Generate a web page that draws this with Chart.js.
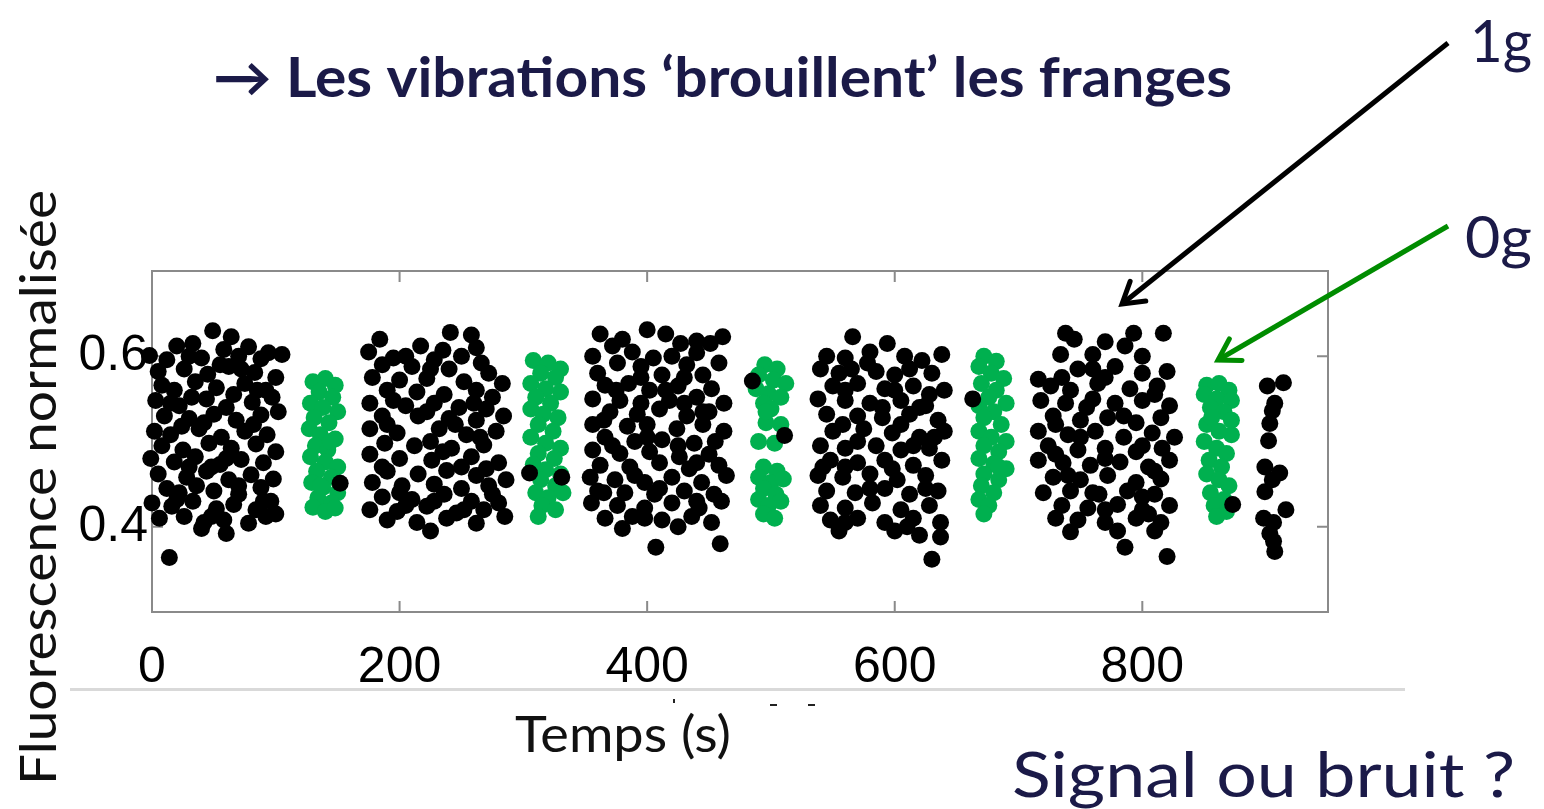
<!DOCTYPE html>
<html>
<head>
<meta charset="utf-8">
<script src="https://cdn.jsdelivr.net/npm/chart.js@4"></script>
<style>
  html, body { margin: 0; padding: 0; background: #fff; }
  canvas { display: block; }
</style>
</head>
<body>
<canvas id="fringes" width="1544" height="809"></canvas>
<script>
// Axis ticks
const xTicks = [0, 200, 400, 600, 800]
const yTicks = [0.4, 0.6]

// Normalised fluorescence, [time (s), value], one array per run
// 1g runs
const run1g_a = [
  [49,0.630],[64,0.623],[20,0.612],[33,0.615],[58,0.608],[78,0.611],[105,0.602],
  [-2,0.601],[12,0.596],[40,0.598],[70,0.600],[88,0.597],[94,0.604],
  [5,0.582],[26,0.585],[45,0.579],[62,0.588],[83,0.581],[100,0.575],
  [8,0.566],[18,0.560],[35,0.570],[52,0.563],[75,0.568],[92,0.560],
  [3,0.548],[22,0.542],[44,0.550],[60,0.540],[81,0.546],[97,0.552],
  [10,0.530],[30,0.527],[50,0.532],[68,0.525],[88,0.531],[102,0.535],
  [2,0.512],[15,0.508],[38,0.515],[56,0.505],[75,0.512],[93,0.508],
  [8,0.495],[25,0.490],[46,0.498],[64,0.492],[84,0.497],[100,0.488],
  [-1,0.480],[18,0.476],[35,0.482],[55,0.473],[72,0.479],[90,0.475],
  [5,0.462],[28,0.458],[44,0.465],[62,0.455],[80,0.461],[98,0.456],
  [12,0.445],[22,0.440],[50,0.442],[70,0.438],[88,0.446],
  [0,0.428],[16,0.424],[33,0.430],[52,0.421],[66,0.426],[84,0.420],[96,0.430],
  [6,0.410],[26,0.412],[42,0.405],[58,0.408],[78,0.404],[92,0.412],
  [60,0.392],[14,0.364],[40,0.398],[100,0.415],[152,0.451],
  [30,0.600],[55,0.590],[72,0.585],[15,0.545],[32,0.552],[66,0.555],[85,0.560],
  [42,0.522],[24,0.518],[82,0.520],[60,0.480],[48,0.470],[30,0.470],[70,0.448],
  [36,0.448],[90,0.430],[48,0.412],[20,0.432]
]
const run1g_b = [
  [241,0.628],[258,0.625],[184,0.620],[217,0.612],[175,0.605],[235,0.607],[195,0.598],
  [228,0.596],[250,0.600],[266,0.592],[186,0.590],[210,0.588],[240,0.585],[272,0.580],
  [178,0.575],[200,0.572],[222,0.574],[252,0.570],[283,0.568],[190,0.560],[214,0.558],
  [236,0.555],[262,0.560],[275,0.552],[176,0.545],[205,0.542],[228,0.545],[248,0.540],
  [270,0.538],[186,0.530],[215,0.530],[240,0.527],[262,0.525],[284,0.530],[176,0.515],
  [198,0.510],[232,0.515],[254,0.508],[278,0.512],[188,0.498],[212,0.495],[242,0.492],
  [268,0.496],[176,0.485],[200,0.480],[226,0.478],[258,0.482],[280,0.475],[190,0.465],
  [215,0.462],[238,0.466],[262,0.460],[178,0.452],[202,0.448],[228,0.450],[250,0.445],
  [272,0.448],[286,0.455],[186,0.435],[210,0.432],[236,0.438],[258,0.430],[280,0.428],
  [176,0.420],[198,0.418],[222,0.424],[246,0.416],[268,0.420],[190,0.408],[214,0.405],
  [238,0.410],[262,0.404],[285,0.412],[225,0.395],[200,0.440],[250,0.470],
  [305,0.463],[331,0.458],
  [205,0.600],[262,0.610],[225,0.585],[195,0.548],[260,0.545],[222,0.535],[190,0.520],
  [245,0.520],[265,0.505],[225,0.500],[235,0.488],[270,0.468],[186,0.470],[228,0.430],
  [252,0.420],[205,0.425],[275,0.438]
]
const run1g_c = [
  [362,0.626],[400,0.631],[415,0.626],[427,0.615],[461,0.623],[451,0.615],[372,0.612],
  [388,0.605],[440,0.604],[356,0.600],[405,0.598],[420,0.600],[376,0.592],[395,0.588],
  [432,0.590],[458,0.592],[360,0.580],[412,0.578],[445,0.578],[366,0.566],[385,0.568],
  [402,0.560],[425,0.565],[452,0.562],[356,0.550],[378,0.548],[418,0.548],[440,0.552],
  [462,0.545],[370,0.535],[392,0.532],[410,0.538],[432,0.530],[450,0.535],[356,0.520],
  [384,0.518],[400,0.520],[424,0.515],[445,0.520],[462,0.512],[366,0.505],[390,0.500],
  [412,0.502],[438,0.498],[455,0.500],[356,0.490],[378,0.486],[402,0.488],[426,0.482],
  [450,0.485],[362,0.472],[386,0.470],[410,0.475],[434,0.468],[458,0.472],[354,0.458],
  [374,0.455],[398,0.452],[420,0.458],[444,0.452],[464,0.460],[360,0.442],[382,0.440],
  [406,0.438],[430,0.442],[454,0.438],[355,0.428],[376,0.425],[398,0.422],[420,0.428],
  [442,0.422],[460,0.430],[366,0.410],[388,0.412],[412,0.408],[436,0.412],[452,0.405],
  [380,0.398],[425,0.400],[407,0.376],[459,0.380],
  [485,0.571],[511,0.507],
  [380,0.620],[440,0.618],[395,0.575],[430,0.575],[375,0.560],[415,0.560],[395,0.545],
  [430,0.545],[365,0.525],[445,0.535],[400,0.505],[425,0.495],[372,0.495],[440,0.475],
  [390,0.460],[410,0.445],[365,0.440],[440,0.430],[398,0.410]
]
const run1g_d = [
  [566,0.623],[594,0.615],[638,0.602],[545,0.600],[560,0.598],[578,0.592],[608,0.600],
  [622,0.595],[540,0.585],[555,0.580],[585,0.582],[600,0.578],[630,0.580],[550,0.565],
  [570,0.568],[592,0.562],[615,0.565],[640,0.560],[538,0.550],[560,0.548],[580,0.545],
  [605,0.548],[625,0.542],[545,0.532],[570,0.530],[590,0.528],[612,0.532],[635,0.525],
  [550,0.512],[575,0.515],[598,0.510],[620,0.505],[640,0.512],[540,0.495],[560,0.492],
  [585,0.495],[605,0.490],[628,0.492],[548,0.478],[570,0.475],[592,0.478],[615,0.472],
  [638,0.478],[538,0.460],[558,0.458],[580,0.462],[602,0.455],[625,0.460],[545,0.442],
  [568,0.440],[592,0.445],[612,0.438],[635,0.442],[540,0.425],[560,0.422],[582,0.428],
  [605,0.420],[628,0.425],[548,0.408],[570,0.410],[592,0.405],[615,0.410],[637,0.405],
  [555,0.395],[600,0.395],[620,0.390],[637,0.388],[630,0.362],[542,0.470],[620,0.540],
  [663,0.550],
  [580,0.605],[612,0.585],[565,0.585],[560,0.560],[600,0.560],[628,0.555],[590,0.540],
  [558,0.520],[605,0.520],[632,0.505],[570,0.500],[615,0.495],[598,0.468],[560,0.470],
  [580,0.445],[625,0.445],[560,0.405],[610,0.400]
]
const run1g_e = [
  [738,0.627],[793,0.627],[817,0.627],[770,0.617],[786,0.612],[734,0.602],[760,0.602],
  [716,0.573],[748,0.585],[778,0.588],[800,0.580],[820,0.582],[726,0.565],[742,0.560],
  [764,0.568],[790,0.562],[812,0.565],[718,0.548],[738,0.545],[755,0.540],[778,0.545],
  [800,0.548],[822,0.542],[728,0.530],[750,0.525],[772,0.528],[795,0.522],[815,0.528],
  [716,0.512],[740,0.508],[762,0.512],[785,0.505],[808,0.510],[826,0.505],[724,0.495],
  [748,0.490],[770,0.492],[795,0.488],[816,0.492],[716,0.478],[736,0.475],[758,0.472],
  [782,0.476],[805,0.470],[822,0.478],[728,0.458],[750,0.455],[772,0.460],[795,0.452],
  [815,0.456],[720,0.440],[742,0.442],[765,0.438],[788,0.442],[810,0.438],[735,0.425],
  [756,0.422],[780,0.426],[800,0.420],[822,0.425],[748,0.408],[770,0.405],[795,0.410],
  [815,0.405],[742,0.394],[786,0.376],[820,0.365],[810,0.395],[730,0.520],[760,0.585],
  [873,0.426],
  [745,0.620],[800,0.600],[770,0.575],[735,0.575],[810,0.555],[760,0.550],[785,0.530],
  [750,0.505],[800,0.495],[730,0.485],[770,0.480],[810,0.465],[740,0.460],[760,0.440],
  [800,0.435],[770,0.420],[730,0.410],[805,0.415],[780,0.395]
]
const run1g_f = [
  [901,0.565],[914,0.569],[907,0.545],[905,0.536],[903,0.521],[902,0.501],[899,0.470],
  [911,0.463],[905,0.455],[899,0.441],[916,0.420],[898,0.410],[906,0.405],[906,0.383],
  [907,0.371],[903,0.392]
]

// 0g runs
const run0g_a = [
  [130,0.570],[140,0.574],[148,0.566],[135,0.558],[146,0.552],[128,0.545],[138,0.540],
  [150,0.535],[131,0.528],[143,0.522],[127,0.515],[136,0.508],[148,0.503],[132,0.495],
  [142,0.490],[128,0.482],[140,0.476],[150,0.470],[133,0.465],[145,0.458],[129,0.452],
  [138,0.446],[150,0.440],[134,0.434],[145,0.428],[130,0.423],[140,0.418],[148,0.422],
  [136,0.448],[144,0.500]
]
const run0g_b = [
  [308,0.595],[320,0.592],[330,0.585],[314,0.580],[326,0.575],[306,0.568],[318,0.562],
  [330,0.558],[310,0.552],[322,0.545],[306,0.538],[316,0.532],[328,0.528],[312,0.520],
  [324,0.512],[306,0.505],[318,0.498],[330,0.492],[312,0.486],[325,0.480],[308,0.473],
  [318,0.467],[330,0.462],[314,0.455],[326,0.448],[310,0.440],[320,0.434],[332,0.440],
  [315,0.425],[326,0.420],[312,0.412]
]
const run0g_c = [
  [495,0.590],[505,0.585],[490,0.578],[502,0.572],[512,0.568],[488,0.562],[498,0.556],
  [508,0.552],[494,0.545],[500,0.538],[496,0.522],[508,0.520],[490,0.500],[503,0.498],
  [494,0.470],[505,0.465],[490,0.458],[500,0.452],[510,0.456],[494,0.445],[504,0.438],
  [490,0.432],[498,0.425],[508,0.430],[494,0.415],[503,0.410],[496,0.535]
]
const run0g_d = [
  [672,0.600],[682,0.594],[668,0.588],[678,0.580],[688,0.574],[670,0.568],[682,0.560],
  [676,0.552],[690,0.545],[668,0.542],[680,0.535],[672,0.528],[686,0.520],[668,0.512],
  [678,0.505],[690,0.500],[672,0.495],[684,0.488],[668,0.480],[680,0.474],[690,0.468],
  [672,0.462],[684,0.455],[670,0.448],[680,0.440],[668,0.432],[676,0.425],[672,0.415],
  [684,0.470]
]
const run0g_e = [
  [852,0.566],[862,0.568],[870,0.560],[850,0.555],[860,0.550],[872,0.548],[855,0.540],
  [866,0.535],[852,0.520],[862,0.512],[872,0.508],[850,0.500],[860,0.492],[868,0.486],
  [854,0.478],[864,0.470],[852,0.462],[862,0.455],[870,0.448],[855,0.440],[866,0.432],
  [858,0.425],[868,0.418],[860,0.412],[856,0.528],[872,0.525]
]

const NAVY = '#1b1a48'
const GREEN_DOTS = '#00b04f'
const GREEN_ARROW = '#008c00'
const TEXT_FONT = 'Lato, "Noto Sans", sans-serif'

const toPoints = runs => runs.flat().map(([x, y]) => ({ x, y }))

// Closed frame with inward tick marks on every side
const framePlugin = {
  id: 'frame',
  beforeDatasetsDraw(chart) {
    const { ctx, chartArea: a, scales } = chart
    ctx.save()
    ctx.strokeStyle = '#8a8a8a'
    ctx.lineWidth = 2
    ctx.strokeRect(a.left, a.top, a.right - a.left, a.bottom - a.top)
    ctx.beginPath()
    xTicks.forEach(v => {
      const px = scales.x.getPixelForValue(v)
      ctx.moveTo(px, a.bottom); ctx.lineTo(px, a.bottom - 11)
      ctx.moveTo(px, a.top); ctx.lineTo(px, a.top + 11)
    })
    yTicks.forEach(v => {
      const py = scales.y.getPixelForValue(v)
      ctx.moveTo(a.left, py); ctx.lineTo(a.left + 11, py)
      ctx.moveTo(a.right, py); ctx.lineTo(a.right - 11, py)
    })
    ctx.stroke()
    ctx.restore()
  }
}

// Draws text squeezed/stretched to a given width
function fitText(ctx, text, x, y, width, font, color, angle = 0) {
  ctx.save()
  ctx.font = font
  ctx.fillStyle = color
  ctx.textBaseline = 'alphabetic'
  ctx.textAlign = 'left'
  const w = ctx.measureText(text).width
  ctx.translate(x, y)
  ctx.rotate(angle)
  ctx.scale(width / w, 1)
  ctx.fillText(text, 0, 0)
  ctx.restore()
}

function arrow(ctx, x0, y0, x1, y1, color, head) {
  ctx.save()
  ctx.strokeStyle = color
  ctx.lineWidth = 5
  ctx.lineCap = 'butt'
  ctx.beginPath()
  ctx.moveTo(x0, y0)
  ctx.lineTo(x1, y1)
  ctx.stroke()
  const ang = Math.atan2(y0 - y1, x0 - x1)
  ctx.lineCap = 'round'
  ctx.beginPath()
  ctx.moveTo(x1 + head * Math.cos(ang - 0.55), y1 + head * Math.sin(ang - 0.55))
  ctx.lineTo(x1, y1)
  ctx.lineTo(x1 + head * Math.cos(ang + 0.55), y1 + head * Math.sin(ang + 0.55))
  ctx.stroke()
  ctx.restore()
}

const annotationsPlugin = {
  id: 'annotations',
  afterDraw(chart) {
    const ctx = chart.ctx
    // separator rule under the axis
    ctx.save()
    ctx.fillStyle = '#d9d9d9'
    ctx.fillRect(70, 688, 1335, 3)
    ctx.fillStyle = '#222'
    ctx.fillRect(673, 699, 2, 4)
    ctx.fillRect(770, 704, 7, 2)
    ctx.fillRect(808, 704, 7, 2)
    ctx.restore()

    fitText(ctx, '\u2192 Les vibrations \u2018brouillent\u2019 les franges', 213, 97, 1019,
      `bold 55px ${TEXT_FONT}`, NAVY)
    fitText(ctx, '1g', 1470, 62, 62, `58px ${TEXT_FONT}`, NAVY)
    fitText(ctx, '0g', 1465, 258, 67, `58px ${TEXT_FONT}`, NAVY)
    fitText(ctx, 'Signal ou bruit ?', 1012, 797, 503, `62px ${TEXT_FONT}`, NAVY)
    fitText(ctx, 'Temps (s)', 515, 752, 216, `51px ${TEXT_FONT}`, '#111')
    fitText(ctx, 'Fluorescence normalis\u00e9e', 56, 785, 595, `51px ${TEXT_FONT}`, '#111', -Math.PI / 2)

    arrow(ctx, 1448, 43, 1122, 304, '#000', 24)
    arrow(ctx, 1448, 226, 1218, 360, GREEN_ARROW, 24)
  }
}

new Chart(document.getElementById('fringes'), {
  type: 'scatter',
  data: {
    datasets: [
      {
        label: '1g',
        data: toPoints([run1g_a, run1g_b, run1g_c, run1g_d, run1g_e, run1g_f]),
        backgroundColor: '#000',
        borderWidth: 0,
        pointRadius: 8.5,
        clip: false
      },
      {
        label: '0g',
        data: toPoints([run0g_a, run0g_b, run0g_c, run0g_d, run0g_e]),
        backgroundColor: GREEN_DOTS,
        borderWidth: 0,
        pointRadius: 8.5,
        clip: false
      }
    ]
  },
  options: {
    responsive: false,
    animation: false,
    layout: { padding: { left: 0, top: 271, right: 216, bottom: 117 } },
    plugins: {
      legend: { display: false },
      tooltip: { enabled: false }
    },
    scales: {
      x: {
        type: 'linear',
        min: 0,
        max: 950,
        afterBuildTicks: s => { s.ticks = xTicks.map(v => ({ value: v })) },
        afterFit: s => { s.height = 80 },
        grid: { display: false, drawTicks: false },
        border: { display: false },
        ticks: {
          color: '#000',
          padding: 26,
          maxRotation: 0,
          autoSkip: false,
          font: { family: '"Liberation Sans", Arial, sans-serif', size: 50 }
        }
      },
      y: {
        type: 'linear',
        min: 0.3,
        max: 0.7,
        afterBuildTicks: s => { s.ticks = yTicks.map(v => ({ value: v })) },
        afterFit: s => { s.width = 152 },
        grid: { display: false, drawTicks: false },
        border: { display: false },
        ticks: {
          color: '#000',
          padding: 4,
          callback: v => v.toFixed(1),
          font: { family: '"Liberation Sans", Arial, sans-serif', size: 50 }
        }
      }
    }
  },
  plugins: [framePlugin, annotationsPlugin]
})
</script>
</body>
</html>
